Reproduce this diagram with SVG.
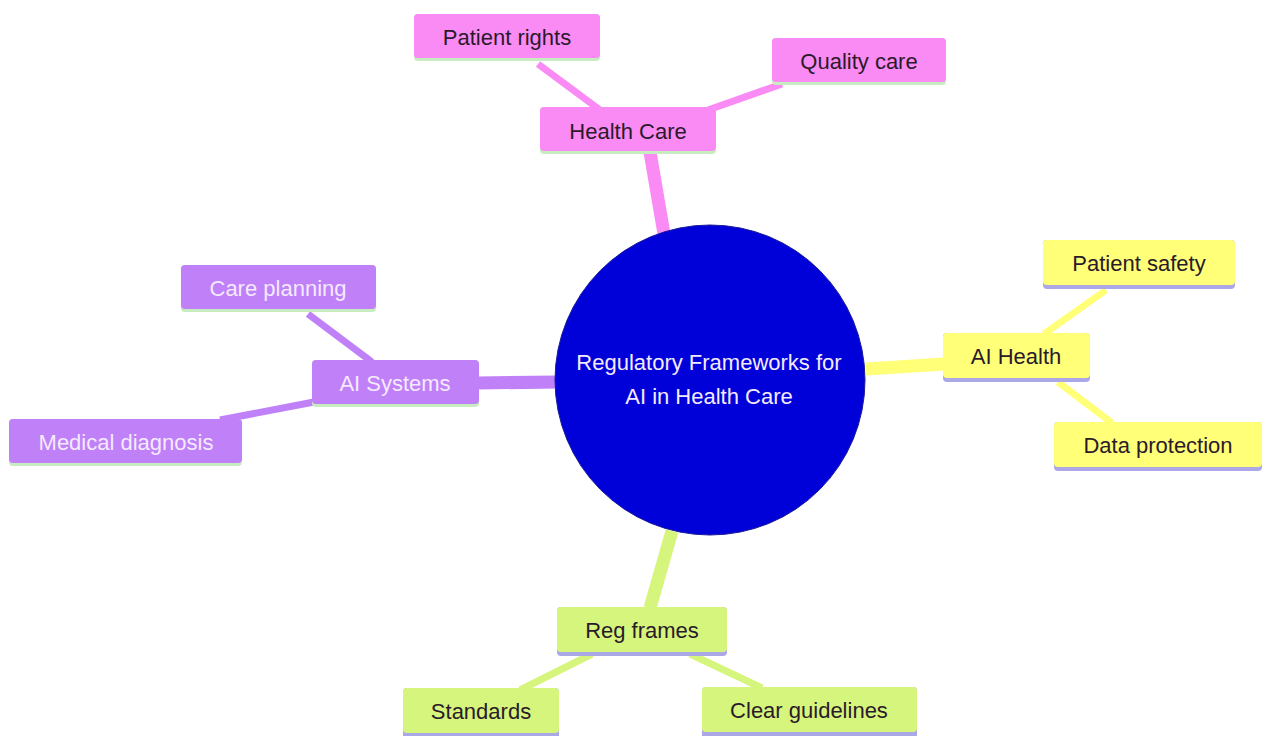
<svg xmlns="http://www.w3.org/2000/svg" width="1263" height="736" viewBox="0 0 1263 736">
<style>
text{font-family:"Liberation Sans",Arial,sans-serif;font-size:22px;text-anchor:middle;dominant-baseline:central}
.pk{fill:#fa8bf5}.pu{fill:#c080f8}.ye{fill:#ffff78}.li{fill:#d6f57c}
.dk{fill:#2a1a2a}.lt{fill:#f4eaff}
.lpk{stroke:#fa8bf5}.lpu{stroke:#c080f8}.lye{stroke:#ffff78}.lli{stroke:#d6f57c}
.thick{stroke-width:13;stroke-linecap:butt}.thin{stroke-width:7}
.bg{fill:#c6ecc0}.bb{fill:#aca8e8}
</style>
<rect width="1263" height="736" fill="#ffffff"/>
<g id="connectors">
<line class="lpk thick" x1="664" y1="234" x2="650" y2="152"/>
<line class="lpk thin" x1="538" y1="64" x2="600" y2="110"/>
<line class="lpk thin" x1="708" y1="110" x2="782" y2="84"/>
<line class="lpu thick" x1="558" y1="382" x2="478" y2="383"/>
<line class="lpu thin" x1="308" y1="314" x2="372" y2="362"/>
<line class="lpu thin" x1="220" y1="420" x2="314" y2="402"/>
<line class="lye thick" x1="866" y1="369" x2="944" y2="364"/>
<line class="lye thin" x1="1106" y1="290" x2="1044" y2="334"/>
<line class="lye thin" x1="1058" y1="382" x2="1112" y2="423"/>
<line class="lli thick" x1="672" y1="531" x2="650" y2="608"/>
<line class="lli thin" x1="592" y1="654" x2="520" y2="690"/>
<line class="lli thin" x1="690" y1="654" x2="762" y2="688"/>
</g>
<g id="root">
<circle cx="710" cy="380" r="155" fill="#0000d8" stroke="#1a1a9a" stroke-width="1"/>
<text x="709" y="362" class="lt">Regulatory Frameworks for</text>
<text x="709" y="396" class="lt">AI in Health Care</text>
</g>
<g id="health-care">
<rect x="540" y="107" width="176" height="47" rx="4" class="bg"/>
<rect x="540" y="107" width="176" height="44" rx="4" class="pk"/>
<text x="628" y="131" class="dk">Health Care</text>
</g>
<g id="patient-rights">
<rect x="414" y="14" width="186" height="47" rx="4" class="bg"/>
<rect x="414" y="14" width="186" height="44" rx="4" class="pk"/>
<text x="507" y="37" class="dk">Patient rights</text>
</g>
<g id="quality-care">
<rect x="772" y="38" width="174" height="47" rx="4" class="bg"/>
<rect x="772" y="38" width="174" height="44" rx="4" class="pk"/>
<text x="859" y="61" class="dk">Quality care</text>
</g>
<g id="ai-systems">
<rect x="312" y="360" width="167" height="47" rx="4" class="bg"/>
<rect x="312" y="360" width="167" height="44" rx="4" class="pu"/>
<text x="395" y="383" class="lt">AI Systems</text>
</g>
<g id="care-planning">
<rect x="181" y="265" width="195" height="47" rx="4" class="bg"/>
<rect x="181" y="265" width="195" height="44" rx="4" class="pu"/>
<text x="278" y="288" class="lt">Care planning</text>
</g>
<g id="medical-diagnosis">
<rect x="9" y="419" width="233" height="47" rx="4" class="bg"/>
<rect x="9" y="419" width="233" height="44" rx="4" class="pu"/>
<text x="126" y="442" class="lt">Medical diagnosis</text>
</g>
<g id="ai-health">
<rect x="943" y="333" width="147" height="49" rx="4" class="bb"/>
<rect x="943" y="333" width="147" height="45" rx="4" class="ye"/>
<text x="1016" y="356" class="dk">AI Health</text>
</g>
<g id="patient-safety">
<rect x="1043" y="240" width="192" height="49" rx="4" class="bb"/>
<rect x="1043" y="240" width="192" height="45" rx="4" class="ye"/>
<text x="1139" y="263" class="dk">Patient safety</text>
</g>
<g id="data-protection">
<rect x="1054" y="422" width="208" height="49" rx="4" class="bb"/>
<rect x="1054" y="422" width="208" height="45" rx="4" class="ye"/>
<text x="1158" y="445" class="dk">Data protection</text>
</g>
<g id="reg-frames">
<rect x="557" y="607" width="170" height="49" rx="4" class="bb"/>
<rect x="557" y="607" width="170" height="45" rx="4" class="li"/>
<text x="642" y="630" class="dk">Reg frames</text>
</g>
<g id="standards">
<rect x="403" y="688" width="156" height="52" rx="4" class="bb"/>
<rect x="403" y="688" width="156" height="45" rx="4" class="li"/>
<text x="481" y="711" class="dk">Standards</text>
</g>
<g id="clear-guidelines">
<rect x="702" y="687" width="215" height="52" rx="4" class="bb"/>
<rect x="702" y="687" width="215" height="45" rx="4" class="li"/>
<text x="809" y="710" class="dk">Clear guidelines</text>
</g>
</svg>
